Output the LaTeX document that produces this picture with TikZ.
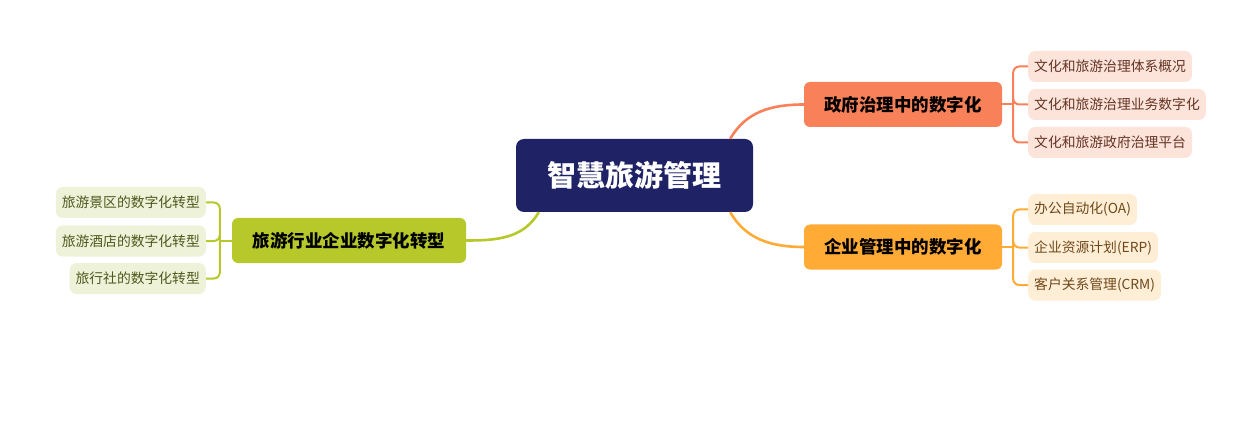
\documentclass[tikz,border=0pt]{standalone}
\usepackage{fontspec}
\setmainfont{Noto Sans CJK SC}
\usetikzlibrary{positioning}

\definecolor{hubblue}{RGB}{31,35,102}
\definecolor{govred}{RGB}{249,129,90}
\definecolor{govleaf}{RGB}{253,228,218}
\definecolor{govtext}{RGB}{100,52,36}
\definecolor{entorange}{RGB}{255,171,54}
\definecolor{entleaf}{RGB}{255,238,214}
\definecolor{enttext}{RGB}{110,72,26}
\definecolor{indgreen}{RGB}{183,200,42}
\definecolor{indleaf}{RGB}{238,242,216}
\definecolor{indtext}{RGB}{78,88,30}

\begin{document}
\begin{tikzpicture}[x=1pt,y=1pt,
  hub/.style={fill=hubblue,text=white,rounded corners=8pt,minimum width=237pt,
    minimum height=73pt,font=\fontsize{29}{32}\selectfont\bfseries},
  branch/.style={rounded corners=6pt,minimum height=45pt,
    font=\fontsize{17.5}{20}\selectfont\bfseries},
  leaf/.style={rounded corners=7pt,minimum height=31pt,inner xsep=6pt,
    font=\fontsize{13.8}{16}\selectfont},
  limb/.style={line width=2.6pt},
  twig/.style={line width=2pt,rounded corners=6pt}]
  \useasboundingbox (0,0) rectangle (1258,-422);
  \node[hub] (hub) at (634.5,-175.5) {智慧旅游管理};
  % right side
  \node[branch,fill=govred,minimum width=198pt] (gov) at (903,-104.5) {政府治理中的数字化};
  \node[branch,fill=entorange,minimum width=198pt] (ent) at (903,-247) {企业管理中的数字化};
  \draw[limb,govred] ([xshift=-23pt]hub.north east) to[out=60,in=180] (gov.west);
  \draw[limb,entorange] ([xshift=-23pt]hub.south east) to[out=-60,in=180] (ent.west);
  \node[leaf,fill=govleaf,text=govtext,anchor=west] (g1) at (1028,-66.5) {文化和旅游治理体系概况};
  \node[leaf,fill=govleaf,text=govtext,anchor=west] (g2) at (1028,-104.5) {文化和旅游治理业务数字化};
  \node[leaf,fill=govleaf,text=govtext,anchor=west] (g3) at (1028,-142.5) {文化和旅游政府治理平台};
  \node[leaf,fill=entleaf,text=enttext,anchor=west] (e1) at (1028,-209.5) {办公自动化(OA)};
  \node[leaf,fill=entleaf,text=enttext,anchor=west] (e2) at (1028,-247.5) {企业资源计划(ERP)};
  \node[leaf,fill=entleaf,text=enttext,anchor=west] (e3) at (1028,-285) {客户关系管理(CRM)};
  \coordinate (gj) at ([xshift=11pt]gov.east);
  \coordinate (ej) at ([xshift=11pt]ent.east);
  \draw[twig,govred] (gov.east) -- (gj);
  \draw[twig,govred] (gj) |- (g1.west);
  \draw[twig,govred] (gj) |- (g2.west);
  \draw[twig,govred] (gj) |- (g3.west);
  \draw[twig,entorange] (ent.east) -- (ej);
  \draw[twig,entorange] (ej) |- (e1.west);
  \draw[twig,entorange] (ej) |- (e2.west);
  \draw[twig,entorange] (ej) |- (e3.west);
  % left side
  \node[branch,fill=indgreen,minimum width=234pt] (ind) at (349,-240.5) {旅游行业企业数字化转型};
  \draw[limb,indgreen] ([xshift=23pt]hub.south west) to[out=-120,in=0] (ind.east);
  \node[leaf,fill=indleaf,text=indtext,anchor=east] (i1) at (206,-202.5) {旅游景区的数字化转型};
  \node[leaf,fill=indleaf,text=indtext,anchor=east] (i2) at (206,-241) {旅游酒店的数字化转型};
  \node[leaf,fill=indleaf,text=indtext,anchor=east] (i3) at (206,-278.5) {旅行社的数字化转型};
  \coordinate (ij) at ([xshift=-12pt]ind.west);
  \draw[twig,indgreen] (ind.west) -- (ij);
  \draw[twig,indgreen] (ij) |- (i1.east);
  \draw[twig,indgreen] (ij) |- (i2.east);
  \draw[twig,indgreen] (ij) |- (i3.east);
\end{tikzpicture}
\end{document}
